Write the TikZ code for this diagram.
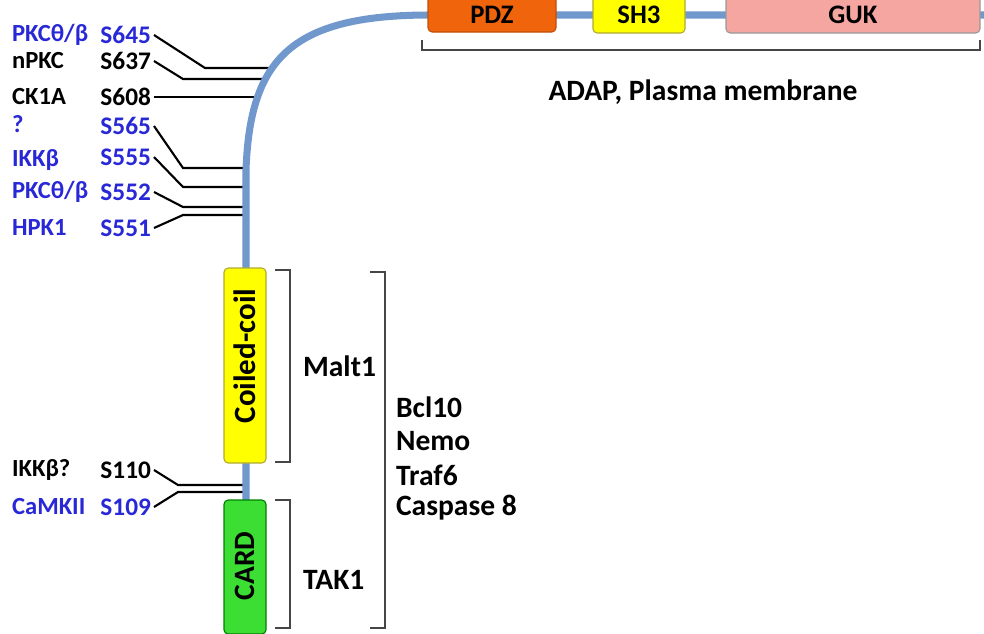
\documentclass[tikz,border=0pt]{standalone}
\usepackage{fontspec}
\setmainfont{Carlito}
\definecolor{chainblue}{RGB}{112,152,204}
\definecolor{siteblue}{RGB}{40,40,215}
\definecolor{pdzorange}{RGB}{240,100,12}
\definecolor{sh3yellow}{RGB}{255,255,0}
\definecolor{gukpink}{RGB}{245,166,160}
\definecolor{cardgreen}{RGB}{60,222,52}
\definecolor{brackgray}{RGB}{70,70,70}
\tikzset{
  lab/.style={font=\bfseries\fontsize{18}{20}\selectfont, inner sep=2pt},
  biglab/.style={font=\bfseries\fontsize{21}{24}\selectfont, inner sep=2pt},
  kin/.style={font=\bfseries\fontsize{17.5}{20}\selectfont, inner sep=2pt, anchor=west},
  site/.style={lab, anchor=east},
  blu/.style={text=siteblue},
  tick/.style={line width=1.5pt, black},
  brack/.style={line width=1.4pt, brackgray},
  dom/.style={line width=0.8pt, rounded corners=3pt}
}
\begin{document}
\begin{tikzpicture}[x=0.025cm,y=-0.025cm,>=stealth]
\useasboundingbox (0,0) rectangle (984,633);

% phosphosites, upper part
\node[kin,blu] (k645) at (9,35) {PKCθ/β};
\node[site,blu] (s645) at (154,35) {S645};
\node[kin] (k637) at (9,61) {nPKC};
\node[site] (s637) at (154,61) {S637};
\node[kin] (k608) at (9,97) {CK1A};
\node[site] (s608) at (154,97) {S608};
\node[kin,blu] (k565) at (9,124) {?};
\node[site,blu] (s565) at (154,126) {S565};
\node[kin,blu] (k555) at (9,160) {IKKβ};
\node[site,blu] (s555) at (154,157) {S555};
\node[kin,blu] (k552) at (9,192) {PKCθ/β};
\node[site,blu] (s552) at (154,192) {S552};
\node[kin,blu] (k551) at (9,228) {HPK1};
\node[site,blu] (s551) at (154,228) {S551};

\coordinate (b645) at (272,68);
\coordinate (b637) at (266,79);
\coordinate (b608) at (258,97);
\coordinate (b565) at (246,168);
\coordinate (b555) at (246,187);
\coordinate (b552) at (246,207);
\coordinate (b551) at (246,215);

\draw[tick] (s645.east) -- (205,68) -- (b645);
\draw[tick] (s637.east) -- (183,79) -- (b637);
\draw[tick] (s608.east) -- (b608);
\draw[tick] (s565.east) -- (183,168) -- (b565);
\draw[tick] (s555.east) -- (183,187) -- (b555);
\draw[tick] (s552.east) -- (183,207) -- (b552);
\draw[tick] (s551.east) -- (183,215) -- (b551);

% phosphosites, lower part
\node[kin] (k110) at (9,470) {IKKβ?};
\node[site] (s110) at (154,470) {S110};
\node[kin,blu] (k109) at (9,507) {CaMKII};
\node[site,blu] (s109) at (154,507) {S109};
\coordinate (b110) at (246,485);
\coordinate (b109) at (246,492);
\draw[tick] (s110.east) -- (178,485) -- (b110);
\draw[tick] (s109.east) -- (178,492) -- (b109);

% backbone
\draw[chainblue, line width=5pt] (246,645) -- (246,170)
  .. controls (250,60) and (290,15) .. (430,15) -- (995,15);

% domains
\draw[dom, draw=pdzorange!80!black, fill=pdzorange] (428,-8) rectangle (556,32);
\node[lab, font=\bfseries\fontsize{19}{21}\selectfont] (pdz) at (492,15) {PDZ};
\draw[dom, draw=olive!70, fill=sh3yellow] (593,-8) rectangle (685,33);
\node[lab, font=\bfseries\fontsize{19}{21}\selectfont] (sh3) at (639,15) {SH3};
\draw[dom, draw=gray!80, fill=gukpink] (726,-8) rectangle (980,33);
\node[lab, font=\bfseries\fontsize{19}{21}\selectfont] (guk) at (853,15) {GUK};

\draw[dom, draw=olive!70, fill=sh3yellow] (224,268) rectangle (266,463);
\node[biglab, rotate=90, font=\bfseries\fontsize{22}{24}\selectfont] (cc) at (245,356) {Coiled-coil};
\draw[dom, draw=green!50!black, fill=cardgreen] (224,500) rectangle (266,634);
\node[biglab, rotate=90] (card) at (245,566) {CARD};

% brackets
\draw[brack] (422,40) -- (422,50) -- (980,50) -- (980,40);
\node[biglab] (adap) at (703,92) {ADAP, Plasma membrane};

\draw[brack] (275,270) -- (290,270) -- (290,462) -- (275,462);
\node[biglab, anchor=west] (malt) at (300,366) {Malt1};
\draw[brack] (275,500) -- (290,500) -- (290,628) -- (275,628);
\node[biglab, anchor=west] (tak) at (300,580) {TAK1};
\draw[brack] (370,272) -- (385,272) -- (385,628) -- (370,628);
\node[biglab, anchor=west] (bcl) at (393,407) {Bcl10};
\node[biglab, anchor=west] (nemo) at (393,441) {Nemo};
\node[biglab, anchor=west] (traf) at (393,475) {Traf6};
\node[biglab, anchor=west] (casp) at (393,508) {Caspase 8};
\end{tikzpicture}
\end{document}
